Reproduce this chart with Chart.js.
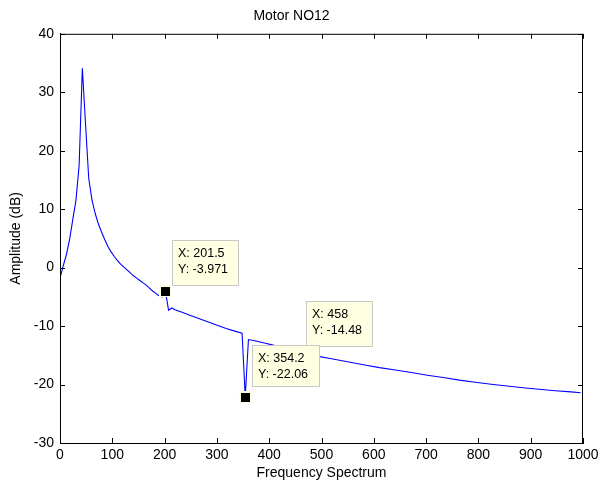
<!DOCTYPE html>
<html>
<head>
<meta charset="utf-8">
<script src="https://cdn.jsdelivr.net/npm/chart.js@4.4.1/dist/chart.umd.min.js"></script>
<style>
  body { margin: 0; background: #fff; }
  #wrap { width: 598px; height: 489px; }
</style>
</head>
<body>
<div id="wrap"><canvas id="spectrum" width="598" height="489"></canvas></div>
<script>
// spectrum samples (Hz, dB)
const freq = [0, 6.1, 12.2, 18.3, 24.4, 30.5, 36.6, 42.7, 48.9, 55.0,
  61.1, 67.2, 73.3, 79.4, 85.5, 91.6, 97.7, 103.8, 109.9, 116.0,
  122.1, 128.2, 134.4, 140.5, 146.6, 152.7, 158.8, 164.9, 171.0, 177.1,
  183.2, 189.3, 195.4, 201.5, 207.6, 213.7, 219.8, 232.1, 244.3, 262.6,
  280.9, 299.2, 317.6, 335.9, 348.1, 354.2, 360.3, 372.5, 390.8, 409.2,
  427.5, 458.0, 488.6, 519.1, 549.6, 580.1, 610.7, 641.2, 671.8, 702.3,
  732.8, 763.4, 793.9, 824.4, 855.0, 885.5, 916.0, 946.6, 977.1, 995.4];
const amp = [-1.8, 0.3, 2.2, 4.8, 8.2, 11.5, 17.5, 34.1, 24.5, 15.2,
  11.6, 9.3, 7.5, 6.1, 4.8, 3.6, 2.7, 1.9, 1.2, 0.6,
  0.1, -0.4, -0.9, -1.4, -1.8, -2.2, -2.6, -3.0, -3.5, -4.0,
  -4.4, -4.8, -5.0, -3.971, -7.3, -6.9, -7.2, -7.6, -8.0, -8.6,
  -9.2, -9.8, -10.4, -10.9, -11.2, -22.06, -12.3, -12.5, -12.9, -13.3,
  -13.8, -14.48, -15.1, -15.6, -16.1, -16.6, -17.1, -17.5, -17.95, -18.4,
  -18.8, -19.25, -19.6, -19.95, -20.25, -20.55, -20.8, -21.05, -21.25, -21.4];

// data tips shown on the figure
const tipX = [201.5, 354.2, 458];
const tipY = [-3.971, -22.06, -14.48];
const tipText = [['X: 201.5', 'Y: -3.971'], ['X: 354.2', 'Y: -22.06'], ['X: 458', 'Y: -14.48']];

const FONT = '"Liberation Sans", Arial, Helvetica, sans-serif';
Chart.defaults.font.family = FONT;
Chart.defaults.font.size = 14;
Chart.defaults.color = '#000';

// box around the axes with inward ticks, matlab style
const frame = {
  id: 'frame',
  afterDatasetsDraw(chart) {
    const {ctx, chartArea: a, scales: {x, y}} = chart;
    ctx.save();
    ctx.strokeStyle = '#000';
    ctx.lineWidth = 1;
    ctx.strokeRect(a.left + 0.5, a.top + 0.5, a.right - a.left - 1, a.bottom - a.top);
    ctx.beginPath();
    x.ticks.forEach(t => {
      const px = Math.round(x.getPixelForValue(t.value)) + 0.5;
      ctx.moveTo(px, a.bottom); ctx.lineTo(px, a.bottom - 5);
      ctx.moveTo(px, a.top); ctx.lineTo(px, a.top + 5);
    });
    y.ticks.forEach(t => {
      const py = Math.round(y.getPixelForValue(t.value)) + 0.5;
      ctx.moveTo(a.left, py); ctx.lineTo(a.left + 5, py);
      ctx.moveTo(a.right, py); ctx.lineTo(a.right - 5, py);
    });
    ctx.stroke();
    ctx.restore();
  }
};

// box offsets from the marker: dx, dy, w, h
const tipBox = [[7, -51, 66, 45], [7, -52, 67, 41], [6, -51, 66, 45]];
const tipOrder = [0, 2, 1];

const dataTips = {
  id: 'dataTips',
  afterDraw(chart) {
    const {ctx, scales: {x, y}} = chart;
    ctx.save();
    const pos = tipX.map((v, i) => [Math.round(x.getPixelForValue(v)), Math.round(y.getPixelForValue(tipY[i]))]);
    // markers
    pos.forEach(([px, py]) => {
      ctx.fillStyle = '#ffffe1';
      ctx.fillRect(px - 6, py - 6, 12, 12);
      ctx.fillStyle = '#000';
      ctx.fillRect(px - 4, py - 4, 9, 9);
    });
    ctx.font = '12.5px ' + FONT;
    ctx.textBaseline = 'middle';
    tipOrder.forEach(i => {
      const [px, py] = pos[i];
      const [dx, dy, w, h] = tipBox[i];
      const bx = px + dx, by = py + dy;
      ctx.fillStyle = '#ffffe1';
      ctx.fillRect(bx, by, w, h);
      ctx.strokeStyle = '#c8c8c8';
      ctx.lineWidth = 1;
      ctx.strokeRect(bx + 0.5, by + 0.5, w, h);
      ctx.fillStyle = '#000';
      ctx.fillText(tipText[i][0], bx + 6, by + 14);
      ctx.fillText(tipText[i][1], bx + 6, by + 30);
    });
    ctx.restore();
  }
};

new Chart(document.getElementById('spectrum'), {
  type: 'line',
  data: {
    datasets: [{
      data: freq.map((f, i) => ({x: f, y: amp[i]})),
      borderColor: '#0000ff',
      borderWidth: 1.1,
      pointRadius: 0,
      tension: 0,
      fill: false
    }]
  },
  options: {
    responsive: false,
    animation: false,
    devicePixelRatio: 1,
    layout: { padding: { left: 0, right: 15, top: 0, bottom: 0 } },
    plugins: {
      legend: { display: false },
      tooltip: { enabled: false },
      title: {
        display: true,
        text: 'Motor NO12',
        color: '#000',
        font: { size: 14, weight: 'normal' },
        padding: { top: 8, bottom: 9 }
      }
    },
    scales: {
      x: {
        type: 'linear',
        min: 0,
        max: 1000,
        ticks: { stepSize: 100, padding: 4, maxRotation: 0, callback: v => String(v) },
        grid: { display: false, drawTicks: false },
        border: { display: true, color: '#000' },
        title: { display: true, text: 'Frequency Spectrum', padding: { top: 0, bottom: 7 } },
        afterFit(s) { s.height = 46; s.paddingLeft = 0; s.paddingRight = 0; }
      },
      y: {
        min: -30,
        max: 40,
        ticks: { stepSize: 10, padding: 6 },
        grid: { display: false, drawTicks: false },
        border: { display: true, color: '#000' },
        title: { display: true, text: 'Amplitude (dB)', padding: { top: 8, bottom: 0 } },
        afterFit(s) { s.width = 60; s.paddingTop = 0; s.paddingBottom = 0; }
      }
    }
  },
  plugins: [frame, dataTips]
});
</script>
</body>
</html>
